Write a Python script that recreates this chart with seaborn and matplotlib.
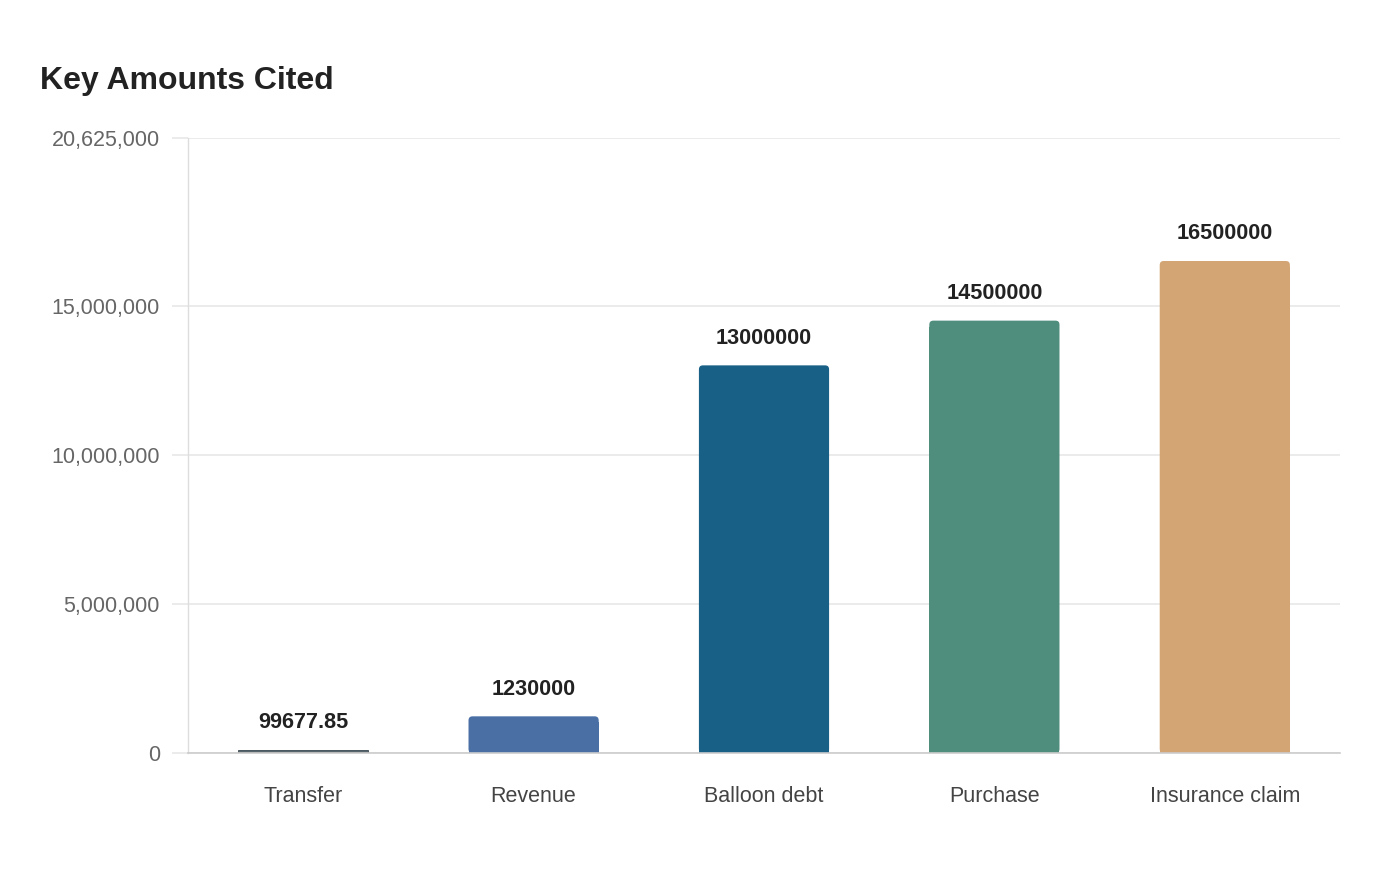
import matplotlib
matplotlib.use("Agg")
import matplotlib.pyplot as plt
from matplotlib.patches import FancyBboxPatch, Rectangle
import seaborn as sns
import pandas as pd

# data
categories = ["Transfer", "Revenue", "Balloon debt", "Purchase", "Insurance claim"]
amounts = [99677.85, 1230000, 13000000, 14500000, 16500000]
labels = ["99677.85", "1230000", "13000000", "14500000", "16500000"]
colors = ["#56646c", "#4a6fa5", "#186086", "#4f8e7c", "#d4a574"]
y_ticks = [0, 5000000, 10000000, 15000000, 20625000]

df = pd.DataFrame({"category": categories, "amount": amounts})

sns.set_theme(style="white")
plt.rcParams["font.family"] = ["Liberation Sans", "DejaVu Sans"]

fig = plt.figure(figsize=(14, 8.8), dpi=100)
ax = fig.add_axes([188 / 1400, 1 - 753 / 880, (1340 - 188) / 1400, (753 - 138) / 880])

sns.barplot(data=df, x="category", y="amount", hue="category", palette=colors,
            width=0.565, legend=False, ax=ax, saturation=1)

ax.set_ylim(0, 20625000)
ax.set_xlim(-0.5, len(categories) - 0.5)

# rounded top corners
px_x = 1 / 230.4
px_y = 20625000 / 615
r = 4
for bar, c in zip(list(ax.patches), colors):
    x0, w, h = bar.get_x(), bar.get_width(), bar.get_height()
    bar.remove()
    if h > 2 * r * px_y:
        ax.add_patch(FancyBboxPatch((x0, 0), w, h,
                                    boxstyle=f"round,pad=0,rounding_size={r * px_x}",
                                    mutation_aspect=px_y / px_x,
                                    facecolor=c, edgecolor="none", zorder=2))
        ax.add_patch(Rectangle((x0, 0), w, h - r * px_y * 1.5, facecolor=c,
                               edgecolor="none", zorder=2))
    else:
        ax.add_patch(Rectangle((x0, 0), w, h, facecolor=c, edgecolor="#3c4850",
                               linewidth=0.6, zorder=2))

for i, (v, lab) in enumerate(zip(amounts, labels)):
    ax.annotate(lab, (i, v), xytext=(0, 19.6), textcoords="offset points",
                ha="center", va="center", fontsize=15.6, fontweight="bold",
                color="#222222")

ax.set_yticks(y_ticks)
ax.set_yticklabels([f"{t:,}" for t in y_ticks])
ax.yaxis.grid(True, color="#e8e8e8", linewidth=1.2)
ax.set_axisbelow(True)
ax.tick_params(axis="y", length=11.5, width=1.2, color="#e8e8e8", pad=8.8,
               labelsize=15.5, labelcolor="#666666", left=True)
ax.tick_params(axis="x", length=0, pad=24, labelsize=15.5, labelcolor="#444444")
ax.set_xlabel("")
ax.set_ylabel("")

for s in ["top", "right"]:
    ax.spines[s].set_visible(False)
ax.spines["left"].set_color("#dddddd")
ax.spines["left"].set_linewidth(1)
ax.spines["bottom"].set_color("#cccccc")
ax.spines["bottom"].set_linewidth(1.2)

fig.text(40 / 1400, 1 - 81 / 880, "Key Amounts Cited", fontsize=23,
         fontweight="bold", color="#222222", ha="left", va="center")

fig.savefig("out.png", dpi=100, facecolor="white")
